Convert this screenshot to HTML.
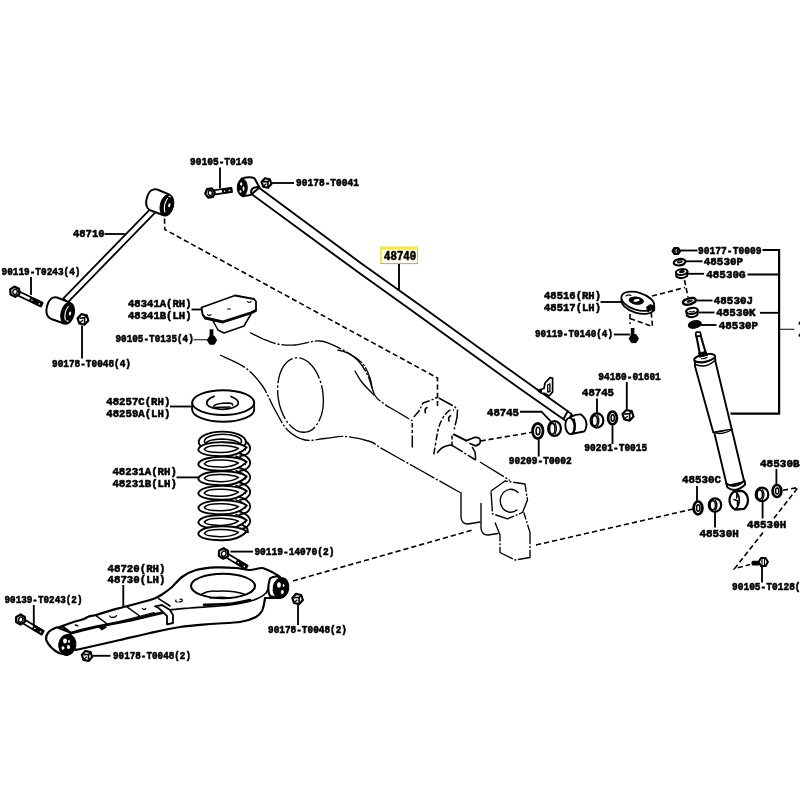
<!DOCTYPE html>
<html><head><meta charset="utf-8"><title>Rear suspension diagram</title>
<style>
html,body{margin:0;padding:0;background:#fff;}
svg{display:block;font-family:"Liberation Mono",monospace;font-weight:bold;}
.p{fill:#fff;stroke:#000;stroke-width:1.7;stroke-linejoin:round;stroke-linecap:round;}
.n{fill:none;stroke:#000;stroke-width:1.7;stroke-linejoin:round;stroke-linecap:round;}
.t{fill:none;stroke:#000;stroke-width:1.1;stroke-linecap:round;}
.k{fill:#000;stroke:#000;stroke-width:1;stroke-linejoin:round;}
.l{stroke:#000;stroke-width:1.85;fill:none;}
.d{stroke:#000;stroke-width:1.6;fill:none;stroke-dasharray:5.2 3;}
.a{stroke:#000;stroke-width:1.35;fill:none;stroke-dasharray:28 1.8 2.2 1.8;stroke-linecap:butt;stroke-linejoin:round;}
.as{stroke:#000;stroke-width:1.35;fill:none;stroke-linejoin:round;stroke-linecap:round;}
text{fill:#000;stroke:#000;stroke-width:0.6;stroke-linejoin:round;}
</style></head><body>
<svg width="800" height="800" viewBox="0 0 800 800" style="will-change:transform">
<rect width="800" height="800" fill="#fff"/>
<g id="axle">
<path class="a" d="M250.0,332.5 C252.2,333.6 258.4,337.1 263.0,339.0 C267.6,340.9 272.2,343.0 277.5,344.0 C282.8,345.0 287.9,345.5 295.0,345.0 C302.1,344.5 312.5,340.4 320.0,341.0 C327.5,341.6 333.8,345.3 340.0,348.5 C346.2,351.7 352.8,355.4 357.5,360.0 C362.2,364.6 365.1,370.1 368.0,376.0 C370.9,381.9 372.2,390.8 375.0,395.5 C377.8,400.2 381.7,402.0 385.0,404.5 C388.3,407.0 390.4,407.8 395.0,410.5 C399.6,413.2 409.6,419.2 412.5,421.0" />
<path class="a" d="M337.5,350.0 C339.6,350.7 345.8,351.7 350.0,354.0 C354.2,356.3 359.7,360.0 363.0,364.0 C366.3,368.0 368.5,374.0 370.0,378.0 C371.5,382.0 371.7,386.3 372.0,388.0" />
<path class="as" d="M355.0,371.0 C356.0,372.7 358.8,378.0 361.0,381.0 C363.2,384.0 365.8,386.7 368.0,389.0 C370.2,391.3 373.0,394.0 374.0,395.0" />
<path class="a" d="M220.0,355.0 C224.2,357.1 237.9,362.3 245.0,367.5 C252.1,372.7 257.5,378.9 262.5,386.0 C267.5,393.1 270.8,402.7 275.0,410.0 C279.2,417.3 282.5,425.0 287.5,430.0 C292.5,435.0 298.8,438.6 305.0,440.0 C311.2,441.4 318.3,439.1 325.0,438.5 C331.7,437.9 337.5,436.0 345.0,436.5 C352.5,437.0 364.2,439.7 370.0,441.5 C375.8,443.3 375.8,445.1 380.0,447.5 C384.2,449.9 388.3,452.2 395.0,456.0 C401.7,459.8 409.2,463.9 420.0,470.0 C430.8,476.1 453.3,488.8 460.0,492.5" />
<ellipse class="a" cx="300.5" cy="395" rx="22.5" ry="37.5" transform="rotate(-8 300.5 395)" style="stroke-dasharray:30 2.2 2.4 2.2"/>
<path class="a" d="M412.3,447.5 L412.3,423.0" style="stroke-dasharray:12 2.5 3 2.5;stroke-width:1.5"/>
<path class="a" d="M413.8,417.0 L418.8,411.3 L423.0,403.0 L430.0,400.6 L437.0,397.5" style="stroke-dasharray:9 2 2 2;stroke-width:1.5"/>
<path class="a" d="M438.8,398.0 L455.0,407.0 L457.5,410.0 L457.0,417.5 L453.8,431.0" style="stroke-dasharray:16 2 2 2;stroke-width:1.5"/>
<path class="a" d="M433.8,454.4 C434.2,451.8 436.8,436.1 437.5,432.5 C438.2,428.9 439.3,425.7 440.0,423.8 C440.7,421.9 442.8,417.8 443.8,416.3 C444.8,414.8 447.6,411.5 448.8,410.8 C450.0,410.1 453.4,410.1 454.0,410.0" style="stroke-dasharray:7 2 3 2;stroke-width:1.5"/>
<path class="as" d="M427,407.5 q-2.8,1.5 -1.6,5.2" style="stroke-width:1.6"/>
<path class="as" d="M450.6,415.8 q-2.8,1.5 -1.6,5.2" style="stroke-width:1.6"/>
<path class="a" d="M452.0,435.5 L452.0,445.0" style="stroke-dasharray:4 2;stroke-width:1.5"/>
<path class="as" d="M437.5,452.5 C438.2,451.8 440.8,448.5 442.5,447.5 C444.2,446.5 448.7,445.3 450.0,445.0 C451.3,444.7 452.2,445.5 452.5,445.6" style="stroke-width:1.6"/>
<path class="a" d="M452.5,445.6 L467.5,455.0 L475.6,460.0" style="stroke-dasharray:12 2 2 2;stroke-width:1.5"/>
<path class="as" d="M453.8,434.4 L466.3,440.6" style="stroke-width:1.9"/>
<path class="as" d="M472.5,447.5 C472.8,448.2 474.6,450.9 475.0,452.5 C475.4,454.1 475.5,458.5 475.6,459.4" style="stroke-width:1.5"/>
<path class="as" d="M466.3,440.6 L475,437.3 Q480.5,437.2 480.3,441 Q480.5,444.8 475,445.8 L470,443.5" style="stroke-width:1.7"/>
<path class="a" d="M480.0,462.0 L510.0,480.5" />
<path class="as" d="M461,492.5 L461,517 Q461.5,524 468,524 L480,522" />
<path class="as" d="M481,503.5 L481,528 Q481.5,535 488,535 L498,533.5" />
<path class="a" d="M491.0,491.0 L505.0,481.0 L525.0,484.0 L527.5,500.0 L522.5,512.5 L507.5,518.8 L492.5,513.8Z" style="stroke-dasharray:20 1.7 2 1.7"/>
<path class="as" d="M518,492.5 A10.5,11.5 0 1 0 517,510" />
<path class="a" d="M495.0,522.5 L500.0,535.0 L500.0,552.5 L515.0,560.0 L530.0,557.5 L530.0,532.5 L523.8,512.5" style="stroke-dasharray:20 1.7 2 1.7"/>
</g>
<g id="dash">
<path class="d" d="M164.5,218.5 L164.8,229.5 L437.5,378.0 L437.5,407.0" />
<path class="d" d="M480.5,441.0 L532.0,432.3" />
<path class="d" d="M293.0,581.0 L472.5,530.0" />
<path class="d" d="M536.0,545.0 L693.0,509.0" />
<path class="d" d="M783.0,490.3 L798.0,487.5 L773.0,519.5" />
<path class="d" d="M763.0,532.5 L734.6,568.6 L750.0,564.6" />
<path class="d" d="M652.0,296.0 L685.0,287.5" />
<path class="d" d="M684.5,280.0 L688.0,297.0" />
<path class="d" d="M630.0,314.0 L630.0,324.0" />
<path class="d" d="M630.0,318.5 L652.5,326.5 L651.0,310.0" />
</g>
<g id="rod48710">
<path class="p" d="M152.4,206.9 L63.4,298.4 L67.8,302.4 L157.3,210.4Z" style="stroke-width:1.8"/>
<path class="p" d="M153,189.6 Q156,188.6 158.5,190 L169.5,194.7 L163,215 L151.5,210.8 Q149,209.8 147.6,208 A5.5,10.3 14 0 1 153,189.6Z" style="stroke-width:2"/>
<ellipse class="k" cx="166.9" cy="205.4" rx="6.6" ry="10.9" transform="rotate(14 166.9 205.4)" />
<path class="n" d="M164.8,212 Q163,205 167.5,198.5" style="stroke:#fff;stroke-width:1.1"/>
<ellipse class="p" cx="169.3" cy="205.3" rx="1.1" ry="2" transform="rotate(14 169.3 205.3)" style="stroke:none"/>
<ellipse class="p" cx="169.5" cy="196.5" rx="1.4" ry="0.6" transform="rotate(20 169.5 196.5)" style="stroke:none"/>
<path class="p" d="M53,297.6 Q56,296.8 58.5,298 L70,302.6 L64,323.5 L52,319.3 Q49.5,318.3 48,316.5 A5.8,10.6 14 0 1 53,297.6Z" style="stroke-width:2"/>
<ellipse class="k" cx="67.6" cy="313.4" rx="6.6" ry="11" transform="rotate(14 67.6 313.4)" />
<path class="n" d="M65.4,320 Q63.6,313 68.2,306.5" style="stroke:#fff;stroke-width:1.1"/>
<ellipse class="p" cx="70" cy="313.5" rx="1.1" ry="2" transform="rotate(14 70 313.5)" style="stroke:none"/>
<ellipse class="p" cx="67.5" cy="321" rx="1.2" ry="0.8" transform="rotate(14 67.5 321)" style="stroke:none"/>
</g>
<g transform="translate(14.8 291.7) rotate(25.7)">
<rect class="p" x="2" y="-2.1" width="28" height="4.2" style="stroke-width:1.7"/>
<rect x="16.5" y="-2.7" width="13.5" height="5.4" rx="1" fill="#000"/>
<circle cx="19.1" cy="0.2" r="0.75" fill="#fff"/>
<path d="M26.4,0.9 l2.2,0 l-1.1,-1.6z" fill="#fff"/>
<path class="p" d="M5.1,0.0 L2.6,4.4 L-2.5,4.4 L-5.1,0.0 L-2.6,-4.4 L2.6,-4.4Z" style="stroke-width:2.3"/>
<ellipse class="p" cx="0.3" cy="0" rx="2.142" ry="2.6519999999999997" style="stroke-width:1.4"/>
</g>
<path class="p" d="M88.4,320.5 L84.7,324.6 L79.3,323.5 L77.6,318.3 L81.3,314.2 L86.7,315.3Z" style="stroke-width:2.2"/>
<path class="n" d="M80.0,318.2 L84.5,317.6 L84.7,323.5 M84.5,317.6 L86.8,316.0" style="stroke-width:1.6"/>
<path class="n" d="M82.5,320.5 L80.0,322.4" style="stroke-width:1.3"/>
<line class="l" x1="31" y1="277" x2="31" y2="295"/>
<line class="l" x1="82" y1="325.5" x2="82" y2="358.5"/>
<line class="l" x1="104.5" y1="234" x2="125.5" y2="234"/>
<g id="rod48740">
<path class="p" d="M258.0,187.0 L360.0,262.4 L420.0,305.2 L520.0,377.3 L567.8,411.3 L563.5,419.3 L520.0,388.8 L411.0,310.0 L360.0,273.6 L251.5,194.0Z" style="stroke-width:1.9"/>
<path class="p" d="M241.5,178.6 Q250,176.3 254.5,178.3 L259.5,187.5 L250.5,195 L242.5,196.2Z" style="stroke-width:2"/>
<ellipse class="k" cx="242.3" cy="187.5" rx="5" ry="8.6" />
<ellipse class="p" cx="241.2" cy="184" rx="1.2" ry="1.8" style="stroke:none"/>
<ellipse class="p" cx="243.5" cy="188.5" rx="0.9" ry="2.6" style="stroke:none"/>
<ellipse class="p" cx="240.5" cy="191.5" rx="1" ry="1.3" style="stroke:none"/>
<path class="n" d="M251.5,194 Q249.5,187.5 258,187" style="stroke-width:2"/>
<path class="p" d="M563.5,419.3 L567.8,411.3 L571.5,414.0 L567.5,422.0Z" style="stroke-width:1.6"/>
<path class="k" d="M567.5,422.0 L571.5,414.0 L574.5,416.5 L572.0,422.5Z" />
<path class="p" d="M571,416.5 Q577.5,414 581,414.5 Q586.5,418.5 586.5,425 Q586,430 584,431.5 L571,434Z" style="stroke-width:1.9"/>
<ellipse class="p" cx="570" cy="426" rx="4.6" ry="8.2" transform="rotate(-6 570 426)" style="stroke-width:1.9"/>
<path class="n" d="M573.8,419.5 Q576,426 573.5,433" style="stroke-width:2.2"/>
<path class="p" d="M537.8,390.3 L544.0,388.5 L545.0,383.0 L550.0,377.6 L552.6,378.2 L552.6,392.0 L549.0,396.0 L545.0,393.5 L541.0,393.0Z" style="stroke-width:1.7"/>
<path class="k" d="M537.8,390.3 L541.5,389.3 L541.5,393.0Z" />
<path class="p" d="M547.6,385.0 L549.8,383.8 L550.0,391.5 L547.8,392.0Z" style="stroke-width:1.3"/>
</g>
<g transform="translate(210 193) rotate(-8)">
<rect class="p" x="2" y="-2.1" width="20" height="4.2" style="stroke-width:1.7"/>
<rect x="12.1" y="-2.7" width="9.9" height="5.4" rx="1" fill="#000"/>
<circle cx="14.7" cy="0.2" r="0.75" fill="#fff"/>
<path d="M18.4,0.9 l2.2,0 l-1.1,-1.6z" fill="#fff"/>
<path class="p" d="M4.8,0.0 L2.4,4.2 L-2.4,4.2 L-4.8,0.0 L-2.4,-4.2 L2.4,-4.2Z" style="stroke-width:2.3"/>
<ellipse class="p" cx="0.3" cy="0" rx="2.016" ry="2.496" style="stroke-width:1.4"/>
</g>
<path class="p" d="M271.4,184.0 L268.0,187.8 L263.2,186.7 L261.6,182.0 L265.0,178.2 L269.8,179.3Z" style="stroke-width:2.2"/>
<path class="n" d="M263.8,181.9 L267.9,181.4 L268.0,186.8 M267.9,181.4 L270.0,179.9" style="stroke-width:1.6"/>
<path class="n" d="M266.0,184.0 L263.8,185.8" style="stroke-width:1.3"/>
<line class="l" x1="220" y1="167.5" x2="220" y2="188.5"/>
<line class="l" x1="272" y1="183" x2="294" y2="183"/>
<rect x="380.1" y="246.4" width="37.9" height="17.6" fill="#fffff2"/>
<rect x="380.1" y="246.4" width="37.9" height="3.2" fill="#f3e845"/>
<rect x="380.1" y="246.4" width="2" height="17.6" fill="#f3e845"/>
<rect x="380.6" y="263.2" width="37.4" height="0.9" fill="#d98a45"/>
<rect x="417.1" y="249" width="0.9" height="15" fill="#e2a050"/>
<line x1="399" y1="264" x2="399" y2="289.8" stroke="#000" stroke-width="1.9"/>
<ellipse class="p" cx="554.5" cy="428.5" rx="6.4" ry="7.4" style="stroke-width:2.2"/>
<ellipse class="n" cx="552.3" cy="428.7" rx="2.6" ry="5.2" style="stroke-width:1.4"/>
<path class="n" d="M555.1,423.3 Q557.7,428.8 555.1,433.9" style="stroke-width:1.3"/>
<path class="l" d="M520.0,411.7 L541.5,411.7 L550.8,421.3" />
<ellipse class="p" cx="537.8" cy="431" rx="5.2" ry="7.6" style="stroke-width:2.7"/>
<ellipse class="p" cx="538.0" cy="431" rx="1.9760000000000002" ry="3.8" style="stroke-width:1.5"/>
<line class="l" x1="538.7" y1="439.5" x2="538.7" y2="456.5"/>
<ellipse class="p" cx="597" cy="420.5" rx="6.4" ry="7.2" style="stroke-width:2.2"/>
<ellipse class="n" cx="594.8" cy="420.7" rx="2.6" ry="5.0" style="stroke-width:1.4"/>
<path class="n" d="M597.6,415.5 Q600.2,420.8 597.6,425.7" style="stroke-width:1.3"/>
<line class="l" x1="597" y1="398.5" x2="597" y2="413"/>
<ellipse class="p" cx="612.5" cy="418" rx="4.4" ry="6.4" style="stroke-width:2.7"/>
<ellipse class="p" cx="612.7" cy="418" rx="1.6720000000000002" ry="3.2" style="stroke-width:1.5"/>
<line class="l" x1="612.5" y1="425.5" x2="612.5" y2="444"/>
<path class="p" d="M633.5,416.5 L629.7,420.6 L624.3,419.5 L622.5,414.1 L626.3,410.0 L631.7,411.1Z" style="stroke-width:2.2"/>
<path class="n" d="M624.9,414.1 L629.6,413.5 L629.7,419.5 M629.6,413.5 L631.9,411.8" style="stroke-width:1.6"/>
<path class="n" d="M627.4,416.4 L624.9,418.4" style="stroke-width:1.3"/>
<line class="l" x1="626.8" y1="382" x2="626.8" y2="409"/>
<g id="bumper">
<path class="p" d="M212.5,320.0 L218.0,330.0 L224.0,333.0 L244.0,326.0 L251.0,314.0" style="stroke-width:1.5"/>
<path class="p" d="M201.5,307.5 L235.0,295.5 L254.0,299.0 L256.0,301.5 L256.0,311.0 L251.0,313.5 L223.0,322.5 L205.0,318.5 L202.5,314.0Z" style="stroke-width:1.8"/>
<path class="n" d="M203.0,315.3 L205.5,317.3 L223.0,321.2 L251.0,312.3 L255.5,310.0" style="stroke-width:1.6"/>
<path class="t" d="M247.5,301.5 q1.5,2 3.5,0" />
<path class="t" d="M207.5,314.5 q1.5,2 3.5,0" />
<line class="t" x1="227.5" y1="309" x2="230.5" y2="309"/>
</g>
<line class="l" x1="191.5" y1="309.5" x2="201.5" y2="309.5"/>
<rect x="209.6" y="329.3" width="3.8" height="9" fill="#000"/>
<path class="k" d="M216.6,340.2 L214.3,344.2 L209.7,344.2 L207.4,340.2 L209.7,336.2 L214.3,336.2Z" />
<line class="t" x1="194" y1="339.8" x2="208" y2="339.8"/>
<g id="seat">
<ellipse class="p" cx="223.2" cy="409.4" rx="31" ry="12.4" style="stroke-width:1.9"/>
<rect x="192.6" y="402.6" width="61.2" height="6.8" fill="#fff"/>
<line class="n" x1="192.2" y1="402.6" x2="192.2" y2="409.4"/>
<line class="n" x1="254.2" y1="402.6" x2="254.2" y2="409.4"/>
<ellipse class="p" cx="223.2" cy="402.6" rx="31" ry="12.4" style="stroke-width:1.9"/>
<path class="n" d="M214,396.3 Q205.5,399.5 207,404.5 Q210,408.5 222,409.3 Q234,409 238,404.5 Q240,400 231,396.5" style="stroke-width:1.8"/>
<path class="n" d="M213.5,406.3 Q216,403.2 228,403 Q233,403.2 232.5,405" style="stroke-width:1.6"/>
<path class="n" d="M214.5,407.5 L230,407" style="stroke-width:1.3"/>
</g>
<line class="l" x1="170" y1="406.5" x2="192.3" y2="406.5"/>
<g id="spring">
<path class="n" d="M238,523.3 Q249,526.3 248,532.3" style="stroke-width:1.8"/>
<path class="n" d="M238,511.0 Q251.5,515.0 250,522.5 Q248.5,528.0 240,529.0" style="stroke-width:1.8"/>
<path class="n" d="M236,514.5 Q246.5,517.5 245.3,522.5" style="stroke-width:1.5"/>
<path class="n" d="M238,496.4 Q251.5,500.4 250,507.9 Q248.5,513.4 240,514.4" style="stroke-width:1.8"/>
<path class="n" d="M236,499.9 Q246.5,502.9 245.3,507.9" style="stroke-width:1.5"/>
<path class="n" d="M238,481.9 Q251.5,485.9 250,493.4 Q248.5,498.9 240,499.9" style="stroke-width:1.8"/>
<path class="n" d="M236,485.4 Q246.5,488.4 245.3,493.4" style="stroke-width:1.5"/>
<path class="n" d="M238,467.3 Q251.5,471.3 250,478.8 Q248.5,484.3 240,485.3" style="stroke-width:1.8"/>
<path class="n" d="M236,470.8 Q246.5,473.8 245.3,478.8" style="stroke-width:1.5"/>
<path class="n" d="M238,452.8 Q251.5,456.8 250,464.2 Q248.5,469.8 240,470.8" style="stroke-width:1.8"/>
<path class="n" d="M236,456.2 Q246.5,459.2 245.3,464.2" style="stroke-width:1.5"/>
<path class="n" d="M238,438.2 Q251.5,442.2 250,449.7 Q248.5,455.2 240,456.2" style="stroke-width:1.8"/>
<path class="n" d="M236,441.7 Q246.5,444.7 245.3,449.7" style="stroke-width:1.5"/>
<ellipse class="p" cx="222.3" cy="442" rx="23.6" ry="10.4" style="stroke-width:1.9"/>
<ellipse class="p" cx="223" cy="441.3" rx="18.5" ry="7" style="stroke-width:1.6"/>
<path class="n" d="M206,443.5 Q207,439.5 222,439 Q236,439.2 241,444.5" style="stroke-width:1.5"/>
<path class="p" d="M198.3,449.5 C199.5,444.7 210,441.8 224,442.2 C236,442.6 243.5,444.7 246.8,447.4 C241,453.7 233,456.4 221,456.1 C208,455.8 198.8,453.7 198.3,449.5Z" style="stroke-width:1.9"/>
<path class="p" d="M204.3,449.2 C206,446.6 213,445.2 222,445.5 C230,445.8 235.5,446.9 238.5,448.4 C234,451.4 228,452.8 220,452.6 C211,452.4 205,451.4 204.3,449.2Z" style="stroke-width:1.5"/>
<path class="p" d="M198.3,464.1 C199.5,459.2 210,456.4 224,456.8 C236,457.1 243.5,459.2 246.8,461.9 C241,468.2 233,470.9 221,470.6 C208,470.4 198.8,468.2 198.3,464.1Z" style="stroke-width:1.9"/>
<path class="p" d="M204.3,463.8 C206,461.1 213,459.8 222,460.1 C230,460.4 235.5,461.4 238.5,462.9 C234,465.9 228,467.4 220,467.1 C211,466.9 205,465.9 204.3,463.8Z" style="stroke-width:1.5"/>
<path class="p" d="M198.3,478.6 C199.5,473.8 210,470.9 224,471.3 C236,471.7 243.5,473.8 246.8,476.5 C241,482.8 233,485.5 221,485.2 C208,484.9 198.8,482.8 198.3,478.6Z" style="stroke-width:1.9"/>
<path class="p" d="M204.3,478.3 C206,475.7 213,474.3 222,474.6 C230,474.9 235.5,476.0 238.5,477.5 C234,480.5 228,481.9 220,481.7 C211,481.5 205,480.5 204.3,478.3Z" style="stroke-width:1.5"/>
<path class="p" d="M198.3,493.2 C199.5,488.4 210,485.5 224,485.9 C236,486.2 243.5,488.4 246.8,491.1 C241,497.4 233,500.1 221,499.8 C208,499.5 198.8,497.4 198.3,493.2Z" style="stroke-width:1.9"/>
<path class="p" d="M204.3,492.9 C206,490.2 213,488.9 222,489.2 C230,489.5 235.5,490.6 238.5,492.1 C234,495.1 228,496.5 220,496.2 C211,496.1 205,495.1 204.3,492.9Z" style="stroke-width:1.5"/>
<path class="p" d="M198.3,507.7 C199.5,502.9 210,500.0 224,500.4 C236,500.8 243.5,502.9 246.8,505.6 C241,511.9 233,514.6 221,514.3 C208,514.0 198.8,511.9 198.3,507.7Z" style="stroke-width:1.9"/>
<path class="p" d="M204.3,507.4 C206,504.8 213,503.4 222,503.7 C230,504.0 235.5,505.1 238.5,506.6 C234,509.6 228,511.0 220,510.8 C211,510.6 205,509.6 204.3,507.4Z" style="stroke-width:1.5"/>
<path class="p" d="M198.3,522.2 C199.5,517.5 210,514.6 224,515.0 C236,515.4 243.5,517.5 246.8,520.2 C241,526.5 233,529.2 221,528.9 C208,528.6 198.8,526.5 198.3,522.2Z" style="stroke-width:1.9"/>
<path class="p" d="M204.3,522.0 C206,519.4 213,518.0 222,518.2 C230,518.6 235.5,519.7 238.5,521.2 C234,524.2 228,525.6 220,525.4 C211,525.2 205,524.2 204.3,522.0Z" style="stroke-width:1.5"/>
<path class="p" d="M198.3,533.6 C199.5,528.8 210,525.9 224,526.3 C236,526.7 243.5,528.8 246.8,531.5 C241,537.8 233,540.5 221,540.2 C208,539.9 198.8,537.8 198.3,533.6Z" style="stroke-width:1.9"/>
<path class="p" d="M204.3,533.3 C206,530.7 213,529.3 222,529.6 C230,529.9 235.5,531.0 238.5,532.5 C234,535.5 228,536.9 220,536.7 C211,536.5 205,535.5 204.3,533.3Z" style="stroke-width:1.5"/>
</g>
<line class="l" x1="176.5" y1="477.4" x2="199" y2="477.4"/>
<g id="arm">
<path class="p" d="M59.5,627.0 C61.0,626.5 69.2,623.4 72.0,622.5 C74.8,621.6 81.9,619.7 83.9,619.0 C85.9,618.3 87.4,617.0 88.8,616.5 C90.2,616.0 92.6,615.9 96.0,615.0 C99.4,614.1 114.3,609.4 118.0,608.4 C121.7,607.4 123.6,607.1 127.8,606.0 C132.0,604.9 149.8,600.0 153.8,598.7 C157.8,597.4 159.9,595.9 162.0,594.5 C164.1,593.1 169.7,589.0 172.0,587.0 C174.3,585.0 179.2,579.0 182.0,577.0 C184.8,575.0 192.0,571.1 196.0,570.0 C200.0,568.9 211.3,567.6 216.0,567.4 C220.7,567.2 232.0,567.7 236.0,568.0 C240.0,568.3 247.0,570.0 250.0,570.0 C253.0,570.0 259.4,567.8 262.0,568.0 C264.6,568.2 269.9,571.0 272.0,572.0 C274.1,573.0 279.1,576.4 280.0,577.0 L280,598 265.0,598.0 C264.9,598.8 264.4,602.3 264.0,604.0 C263.6,605.7 263.1,609.3 262.0,611.0 C260.9,612.7 258.9,615.5 256.0,617.0 C253.1,618.5 246.1,621.1 240.0,622.0 C233.9,622.9 218.0,623.3 210.0,624.0 C202.0,624.7 188.0,625.8 180.0,627.0 C172.0,628.2 158.0,631.3 150.0,633.0 C142.0,634.7 129.9,637.7 120.0,640.0 C110.1,642.3 81.7,648.7 75.8,650.0 Z" style="stroke-width:2.2"/>
<ellipse class="p" cx="223" cy="586" rx="32" ry="12.2" style="stroke-width:2.1"/>
<path class="n" d="M202,594 Q208,590.5 216,591.2 Q232,590 244,594" style="stroke-width:1.5"/>
<path class="n" d="M210,598 Q221,596.5 230,598" style="stroke-width:1.5"/>
<path class="n" d="M162.0,612.9 C163.1,612.5 166.3,610.7 170.0,610.0 C173.7,609.3 182.0,608.7 190.0,608.0 C198.0,607.3 221.5,606.1 230.0,605.0 C238.5,603.9 249.2,601.6 254.0,600.0 C258.8,598.4 264.0,595.0 266.0,593.0 C268.0,591.0 268.6,586.1 269.0,585.0" style="stroke-width:1.7"/>
<path class="n" d="M204.0,604.8 C207.5,604.7 223.9,604.4 230.0,603.8 C236.1,603.2 247.3,600.5 250.0,600.0" style="stroke-width:2.6"/>
<path class="n" d="M71.0,633.2 L82.5,630.0 L97.0,626.7 L131.3,620.2 L154.0,614.5 L162.0,612.9" style="stroke-width:2.9"/>
<path class="k" d="M97.5,626.0 L101.8,630.0 L106.5,627.0Z" />
<path class="n" d="M107.0,624.8 L131.0,618.5 L154.0,612.6" style="stroke-width:1.1"/>
<path class="n" d="M62.5,626.5 L71.0,633.2" style="stroke-width:2.3"/>
<path class="n" d="M96.0,615.7 L106.6,623.5" style="stroke-width:1.5"/>
<path class="n" d="M127.0,606.8 L139.0,615.5" style="stroke-width:1.5"/>
<path class="n" d="M158.6,598.7 L170.0,606.0" style="stroke-width:1.5"/>
<path class="t" d="M109.5,616 q1.5,2.2 3.5,1.2 q2,0.6 3.5,-1.6" style="stroke-width:1.3"/>
<path class="t" d="M75.3,625 l2.4,0.8" style="stroke-width:1.5"/>
<path class="t" d="M142.5,608.5 q1.5,2.2 3.2,0" style="stroke-width:1.3"/>
<path class="t" d="M176,600 q-1,1.8 1.2,2 m1.8,-0.2 q3,0.6 3.5,-1.6 q-0.6,-1.6 -2.5,-1" style="stroke-width:1.2"/>
<path class="p" d="M155.0,606.3 L162.0,605.0 L170.0,610.0 L173.0,615.0 L173.0,623.0 L167.0,624.3 L167.0,616.0 L159.0,608.3Z" style="stroke-width:1.8"/>
<path class="p" d="M57,627.3 L70,632.5 L67,655 L59.5,653.3 Q49.8,648.5 46.2,640 Q44.5,632 57,627.3Z" style="stroke-width:2.1"/>
<ellipse class="k" cx="67.3" cy="644.8" rx="8.6" ry="10.4" transform="rotate(10 67.3 644.8)" />
<ellipse class="p" cx="65" cy="641" rx="2" ry="2.4" style="stroke:none"/>
<ellipse class="p" cx="68.5" cy="647" rx="1.6" ry="2" style="stroke:none"/>
<ellipse class="p" cx="63" cy="648" rx="1.5" ry="1.8" style="stroke:none"/>
<ellipse class="p" cx="69" cy="641.5" rx="0.9" ry="1.4" style="stroke:none"/>
<path class="p" d="M270,578.5 Q275,575 280,577.5 L283,580 L279,598 L270,596 Q266.5,590 270,578.5Z" style="stroke-width:2.1"/>
<ellipse class="k" cx="281" cy="588" rx="7.8" ry="10.3" transform="rotate(10 281 588)" />
<ellipse class="p" cx="279" cy="585" rx="1.9" ry="2.8" style="stroke:none"/>
<ellipse class="p" cx="282.3" cy="592" rx="1.5" ry="2" style="stroke:none"/>
<ellipse class="p" cx="283.5" cy="585.5" rx="0.9" ry="1.6" style="stroke:none"/>
</g>
<g transform="translate(20.5 619.5) rotate(31)">
<rect class="p" x="2" y="-2.1" width="24" height="4.2" style="stroke-width:1.7"/>
<rect x="14.299999999999999" y="-2.7" width="11.700000000000001" height="5.4" rx="1" fill="#000"/>
<circle cx="16.9" cy="0.2" r="0.75" fill="#fff"/>
<path d="M22.4,0.9 l2.2,0 l-1.1,-1.6z" fill="#fff"/>
<path class="p" d="M5.0,0.0 L2.5,4.3 L-2.5,4.3 L-5.0,0.0 L-2.5,-4.3 L2.5,-4.3Z" style="stroke-width:2.3"/>
<ellipse class="p" cx="0.3" cy="0" rx="2.1" ry="2.6" style="stroke-width:1.4"/>
</g>
<g transform="translate(223.5 553.5) rotate(31)">
<rect class="p" x="2" y="-2.1" width="25" height="4.2" style="stroke-width:1.7"/>
<rect x="14.85" y="-2.7" width="12.15" height="5.4" rx="1" fill="#000"/>
<circle cx="17.4" cy="0.2" r="0.75" fill="#fff"/>
<path d="M23.4,0.9 l2.2,0 l-1.1,-1.6z" fill="#fff"/>
<path class="p" d="M5.2,0.0 L2.6,4.5 L-2.6,4.5 L-5.2,0.0 L-2.6,-4.5 L2.6,-4.5Z" style="stroke-width:2.3"/>
<ellipse class="p" cx="0.3" cy="0" rx="2.184" ry="2.704" style="stroke-width:1.4"/>
</g>
<path class="p" d="M92.2,657.1 L88.6,661.0 L83.5,659.9 L81.8,654.9 L85.4,651.0 L90.5,652.1Z" style="stroke-width:2.2"/>
<path class="n" d="M84.1,654.8 L88.5,654.3 L88.6,660.0 M88.5,654.3 L90.7,652.7" style="stroke-width:1.6"/>
<path class="n" d="M86.5,657.1 L84.1,658.9" style="stroke-width:1.3"/>
<path class="p" d="M302.9,600.1 L299.3,604.1 L294.0,603.0 L292.3,597.9 L295.9,593.9 L301.2,595.0Z" style="stroke-width:2.2"/>
<path class="n" d="M294.6,597.8 L299.1,597.3 L299.2,603.0 M299.1,597.3 L301.4,595.7" style="stroke-width:1.6"/>
<path class="n" d="M297.1,600.1 L294.6,602.0" style="stroke-width:1.3"/>
<line class="l" x1="33.8" y1="605" x2="33.8" y2="625.5"/>
<line class="l" x1="123.3" y1="585" x2="123.3" y2="606.5"/>
<line class="l" x1="93" y1="655.8" x2="110.5" y2="655.8"/>
<line class="l" x1="298" y1="605" x2="298" y2="625"/>
<line class="l" x1="230.5" y1="551.6" x2="253" y2="551.6"/>
<g id="brk">
<ellipse class="p" cx="637.8" cy="304.3" rx="17" ry="8.6" transform="rotate(17 637.8 304.3)" style="stroke-width:1.8"/>
<ellipse class="p" cx="637.8" cy="301.3" rx="17" ry="8.6" transform="rotate(17 637.8 301.3)" style="stroke-width:1.8"/>
<ellipse class="k" cx="636.3" cy="300.6" rx="7.2" ry="3.6" transform="rotate(8 636.3 300.6)" />
<ellipse class="p" cx="636.6" cy="300.4" rx="3.2" ry="1.3" transform="rotate(-10 636.6 300.4)" style="stroke:none"/>
<path class="t" d="M626,296 q2.5,-1.8 5,-0.6" />
<path class="k" d="M646.5,307 L650.5,304.5 L654.8,306.5 L654.5,311 L651,309.5 L648,312Z"/>
</g>
<line class="l" x1="600.5" y1="302" x2="621" y2="302"/>
<rect x="630.8" y="328" width="3.6" height="9" fill="#000"/>
<path class="k" d="M638.4,338.6 L636.1,342.6 L631.5,342.6 L629.2,338.6 L631.5,334.6 L636.1,334.6Z" />
<line class="l" x1="613.8" y1="334.5" x2="630" y2="334.5"/>
<g id="shock">
<path class="p" d="M694.8,361.0 L695.0,366.3 L713.3,432.4 L731.8,429.5 L715.3,361.0 L715.0,356.5Z" style="stroke-width:1.9"/>
<path class="p" d="M714.6,434.0 L727.0,486.0 L744.3,482.0 L731.8,429.5" style="stroke-width:1.9"/>
<path class="n" d="M713.3,432.4 Q723,435.5 731.8,429.5" style="stroke-width:1.5"/>
<path class="n" d="M694.8,364.2 Q705,369.5 715.6,360" style="stroke-width:1.5"/>
<path class="n" d="M694.5,361 Q705,366 715.3,356.8" style="stroke-width:1.4"/>
<ellipse class="p" cx="704.6" cy="358" rx="10.6" ry="3.7" transform="rotate(-11 704.6 358)" style="stroke-width:1.9"/>
<path class="p" d="M696.3,335.5 L700.2,355.5 L706.0,353.8 L700.5,335.0Z" style="stroke-width:2.1"/>
<path class="k" d="M698.6,353.0 L699.5,357.2 L707.8,355.2 L706.0,351.5Z" />
<path class="n" d="M701.5,358.6 q3,0.6 5.5,-1.4" style="stroke-width:1.2"/>
<rect x="695.8" y="332.2" width="4.8" height="4" rx="1" fill="#fff" stroke="#000" stroke-width="1.7"/>
<path class="p" d="M726.5,483.5 Q735,489.5 744.5,480.5 L745.2,484.5 Q736,493.5 727.5,487.5Z" style="stroke-width:1.9"/>
<path class="p" d="M734.5,491.2 L742,490.8 Q747.5,493.5 748,499.5 Q748,505.5 744,508.8 L735,509.6 Q729.5,506 729.5,500 Q729.8,494 734.5,491.2Z" style="stroke-width:2.2"/>
<path class="n" d="M735.5,491.5 Q739.5,495 739.3,500.5 Q739,506 735.5,509.3" style="stroke-width:1.7"/>
<path class="t" d="M736.8,494.5 l0,3.5 M734,499.5 l3.5,1.2 l0,4.5" style="stroke-width:1.5"/>
</g>
<path class="p" d="M680.0,251.0 L678.1,253.8 L674.4,253.8 L672.6,251.0 L674.4,248.2 L678.1,248.2Z" style="stroke-width:2.3"/>
<ellipse class="p" cx="675.2" cy="251" rx="1.0" ry="1.2" style="stroke-width:1.1"/>
<line class="t" x1="677.6" y1="248.6" x2="677.6" y2="253.4"/>
<line class="l" x1="680.5" y1="250.5" x2="697.5" y2="250.5"/>
<ellipse class="p" cx="679.6" cy="262.2" rx="5.9" ry="3.2" transform="rotate(-9 679.6 262.2)" style="stroke-width:2.2"/>
<ellipse class="p" cx="679.8" cy="261.8" rx="2.3" ry="0.9" transform="rotate(-9 679.8 261.8)" style="stroke-width:1.3"/>
<line class="l" x1="686" y1="261.3" x2="702.5" y2="261.3"/>
<path class="p" d="M676,272.3 L676.4,276.6 Q681.5,280 687.2,276 L687.5,271.8" style="stroke-width:1.9"/>
<ellipse class="p" cx="681.7" cy="272" rx="5.8" ry="2.9" transform="rotate(-8 681.7 272)" style="stroke-width:2"/>
<ellipse class="k" cx="681.9" cy="271.6" rx="2.4" ry="1" transform="rotate(-8 681.9 271.6)" />
<line class="l" x1="688" y1="273.8" x2="704" y2="273.8"/>
<ellipse class="p" cx="689.4" cy="301.3" rx="6.6" ry="3.1" transform="rotate(-14 689.4 301.3)" style="stroke-width:2.4"/>
<ellipse class="p" cx="689.6" cy="301.1" rx="2.6" ry="0.8" transform="rotate(-14 689.6 301.1)" style="stroke-width:1.2"/>
<line class="l" x1="696.5" y1="300.5" x2="712.5" y2="300.5"/>
<path class="p" d="M686.4,311.2 L686.8,315.6 Q692,319.2 697.4,315 L697.8,310.6" style="stroke-width:1.9"/>
<ellipse class="p" cx="692" cy="310.9" rx="5.8" ry="3" transform="rotate(-8 692 310.9)" style="stroke-width:2.1"/>
<path class="t" d="M689.5,311.6 q2.5,1 5,-0.6" />
<line class="l" x1="698.5" y1="312.5" x2="714.5" y2="312.5"/>
<ellipse class="k" cx="694.8" cy="324.4" rx="6.6" ry="3.7" transform="rotate(-12 694.8 324.4)" />
<line class="l" x1="701" y1="325" x2="716.5" y2="325"/>
<path class="l" d="M762.5,250.0 L779.1,250.0 L779.1,413.7 L730.5,413.7" style="stroke-width:2.2;stroke-linejoin:miter"/>
<line class="l" x1="747.5" y1="274.5" x2="779.1" y2="274.5"/>
<line class="l" x1="760" y1="312.8" x2="779.1" y2="312.8"/>
<line class="t" x1="779.1" y1="329.2" x2="794" y2="329.2"/>
<ellipse class="p" cx="698" cy="508" rx="4.4" ry="6.5" style="stroke-width:2.7"/>
<ellipse class="p" cx="698.2" cy="508" rx="1.6720000000000002" ry="3.25" style="stroke-width:1.5"/>
<line class="l" x1="697" y1="486" x2="697" y2="501"/>
<ellipse class="p" cx="715" cy="505" rx="6.2" ry="6.6" style="stroke-width:2.2"/>
<ellipse class="n" cx="712.8" cy="505.2" rx="2.6" ry="4.3999999999999995" style="stroke-width:1.4"/>
<path class="n" d="M715.6,500.6 Q718.2,505.3 715.6,509.6" style="stroke-width:1.3"/>
<line class="l" x1="715" y1="512" x2="715" y2="527.5"/>
<ellipse class="p" cx="762" cy="494.4" rx="6.3" ry="6.8" style="stroke-width:2.2"/>
<ellipse class="n" cx="759.8" cy="494.59999999999997" rx="2.6" ry="4.6" style="stroke-width:1.4"/>
<path class="n" d="M762.6,489.8 Q765.2,494.7 762.6,499.2" style="stroke-width:1.3"/>
<line class="l" x1="762.6" y1="501.5" x2="762.6" y2="518.5"/>
<ellipse class="p" cx="777" cy="491" rx="4.4" ry="6" style="stroke-width:2.7"/>
<ellipse class="p" cx="777.2" cy="491" rx="1.6720000000000002" ry="3.0" style="stroke-width:1.5"/>
<line class="l" x1="776.4" y1="469" x2="776.4" y2="484.5"/>
<rect x="751.5" y="560.8" width="8" height="4.6" rx="1.5" fill="#000"/>
<path class="p" d="M767.9,562.0 L765.6,566.0 L761.0,566.0 L758.7,562.0 L761.0,558.0 L765.6,558.0Z" style="stroke-width:2"/>
<path class="t" d="M762,559.5 l0,5 M764.5,559 l0,5.5" />
<line class="l" x1="762" y1="567" x2="762" y2="582.5"/>
<g id="labels">
<text x="190" y="165.1" font-size="10.8" textLength="63.0" lengthAdjust="spacingAndGlyphs">90105-T0149</text>
<text x="296" y="186.1" font-size="10.8" textLength="63.0" lengthAdjust="spacingAndGlyphs">90178-T0041</text>
<text x="73" y="237.4" font-size="11.6" textLength="31.5" lengthAdjust="spacingAndGlyphs">48710</text>
<text x="1.5" y="274.9" font-size="10.8" textLength="79.0" lengthAdjust="spacingAndGlyphs">90119-T0243(4)</text>
<text x="128" y="307.1" font-size="11.6" textLength="63.5" lengthAdjust="spacingAndGlyphs">48341A(RH)</text>
<text x="128" y="319.1" font-size="11.6" textLength="63.5" lengthAdjust="spacingAndGlyphs">48341B(LH)</text>
<text x="115.5" y="341.9" font-size="10.8" textLength="78.3" lengthAdjust="spacingAndGlyphs">90105-T0135(4)</text>
<text x="52" y="367.1" font-size="10.8" textLength="79.0" lengthAdjust="spacingAndGlyphs">90178-T0048(4)</text>
<text x="106.3" y="404.5" font-size="11.6" textLength="64.0" lengthAdjust="spacingAndGlyphs">48257C(RH)</text>
<text x="106.3" y="416.9" font-size="11.6" textLength="64.0" lengthAdjust="spacingAndGlyphs">48259A(LH)</text>
<text x="112.4" y="474.7" font-size="11.6" textLength="64.6" lengthAdjust="spacingAndGlyphs">48231A(RH)</text>
<text x="112.4" y="487.1" font-size="11.6" textLength="64.6" lengthAdjust="spacingAndGlyphs">48231B(LH)</text>
<text x="254.4" y="555.4" font-size="10.8" textLength="80.0" lengthAdjust="spacingAndGlyphs">90119-14070(2)</text>
<text x="107.5" y="571.6" font-size="11.6" textLength="58.0" lengthAdjust="spacingAndGlyphs">48720(RH)</text>
<text x="107.5" y="582.9" font-size="11.6" textLength="58.0" lengthAdjust="spacingAndGlyphs">48730(LH)</text>
<text x="4.5" y="602.9" font-size="10.8" textLength="78.0" lengthAdjust="spacingAndGlyphs">90139-T0243(2)</text>
<text x="268" y="632.6" font-size="10.8" textLength="79.0" lengthAdjust="spacingAndGlyphs">90178-T0048(2)</text>
<text x="113" y="659.1" font-size="10.8" textLength="78.0" lengthAdjust="spacingAndGlyphs">90178-T0048(2)</text>
<text x="384" y="260.1" font-size="12.2" textLength="32.2" lengthAdjust="spacingAndGlyphs">48740</text>
<text x="544" y="299.1" font-size="11.6" textLength="57.0" lengthAdjust="spacingAndGlyphs">48516(RH)</text>
<text x="544" y="311.1" font-size="11.6" textLength="57.0" lengthAdjust="spacingAndGlyphs">48517(LH)</text>
<text x="535" y="337.1" font-size="10.8" textLength="78.0" lengthAdjust="spacingAndGlyphs">90119-T0140(4)</text>
<text x="598.3" y="380.1" font-size="10.8" textLength="62.5" lengthAdjust="spacingAndGlyphs">94180-01601</text>
<text x="582" y="396.3" font-size="11.6" textLength="32.0" lengthAdjust="spacingAndGlyphs">48745</text>
<text x="487" y="416.3" font-size="11.6" textLength="32.0" lengthAdjust="spacingAndGlyphs">48745</text>
<text x="584.3" y="451.3" font-size="10.8" textLength="63.0" lengthAdjust="spacingAndGlyphs">90201-T0015</text>
<text x="508.8" y="464.3" font-size="10.8" textLength="63.0" lengthAdjust="spacingAndGlyphs">90209-T0002</text>
<text x="698" y="253.7" font-size="10.8" textLength="63.5" lengthAdjust="spacingAndGlyphs">90177-T0009</text>
<text x="703.8" y="264.9" font-size="11.6" textLength="39.2" lengthAdjust="spacingAndGlyphs">48530P</text>
<text x="706.3" y="277.9" font-size="11.6" textLength="39.2" lengthAdjust="spacingAndGlyphs">48530G</text>
<text x="713.8" y="303.7" font-size="11.6" textLength="39.2" lengthAdjust="spacingAndGlyphs">48530J</text>
<text x="716.3" y="316.1" font-size="11.6" textLength="39.2" lengthAdjust="spacingAndGlyphs">48530K</text>
<text x="718.8" y="328.7" font-size="11.6" textLength="39.2" lengthAdjust="spacingAndGlyphs">48530P</text>
<text x="682" y="483.1" font-size="11.6" textLength="39.0" lengthAdjust="spacingAndGlyphs">48530C</text>
<text x="760" y="466.7" font-size="11.6" textLength="39.6" lengthAdjust="spacingAndGlyphs">48530B</text>
<text x="699.4" y="536.7" font-size="11.6" textLength="39.4" lengthAdjust="spacingAndGlyphs">48530H</text>
<text x="747" y="528.1" font-size="11.6" textLength="39.2" lengthAdjust="spacingAndGlyphs">48530H</text>
<text x="732" y="589.9" font-size="10.8" textLength="80.0" lengthAdjust="spacingAndGlyphs">90105-T0128(2)</text>
<text x="798.6" y="326.4" font-size="11.6" textLength="58.0" lengthAdjust="spacingAndGlyphs">48530(RH)</text>
<text x="798.6" y="338.1" font-size="11.6" textLength="58.0" lengthAdjust="spacingAndGlyphs">48540(LH)</text>
</g>
</svg></body></html>
